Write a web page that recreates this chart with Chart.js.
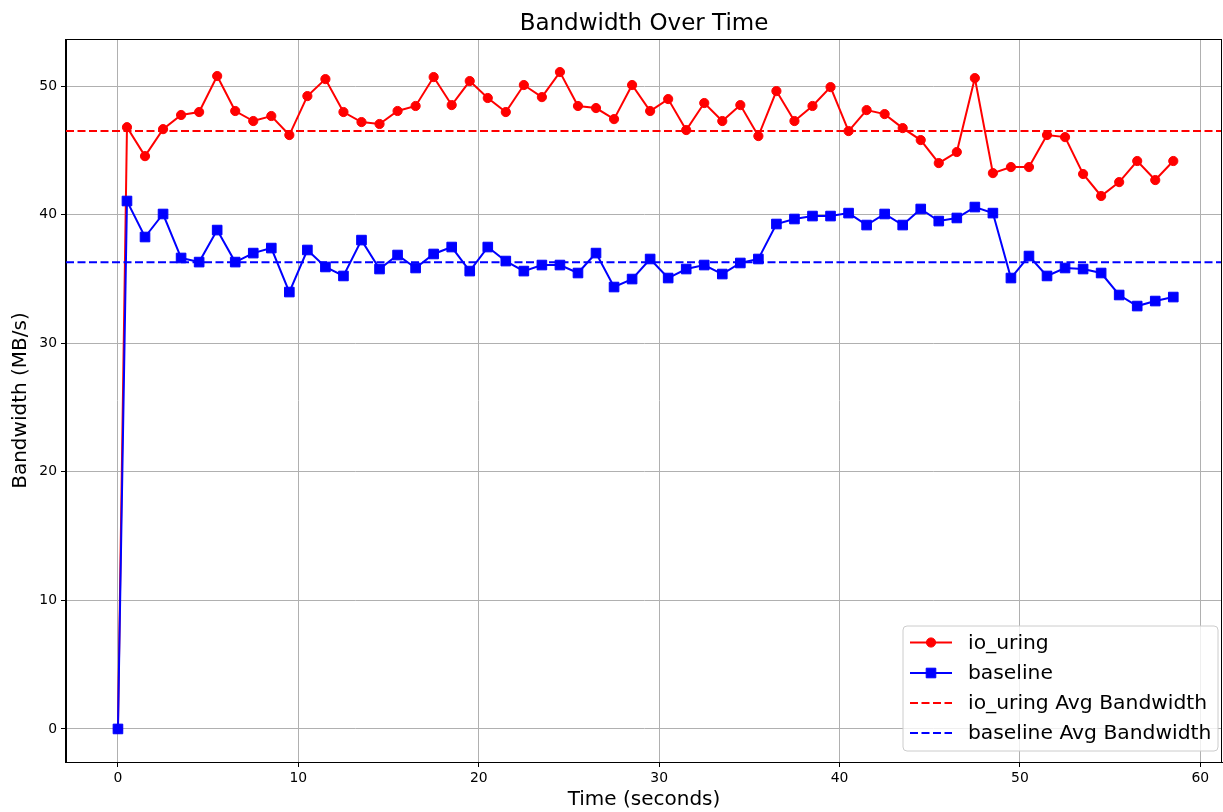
<!DOCTYPE html>
<html>
<head>
<meta charset="utf-8">
<script src="https://cdn.jsdelivr.net/npm/chart.js@4/dist/chart.umd.min.js"></script>
<style>
  html, body { margin: 0; padding: 0; background: #ffffff; }
  #wrap { width: 1223px; height: 812px; position: relative; }
</style>
</head>
<body>
<div id="wrap"><canvas id="c" width="1223" height="812"></canvas></div>
<script>
// ---- data ----
const timeSec = [0, 0.5, 1.5, 2.5, 3.5, 4.5, 5.5, 6.5, 7.5, 8.5, 9.5, 10.5, 11.5, 12.5, 13.5, 14.5,
  15.5, 16.5, 17.5, 18.5, 19.5, 20.5, 21.5, 22.5, 23.5, 24.5, 25.5, 26.5, 27.5, 28.5, 29.5,
  30.5, 31.5, 32.5, 33.5, 34.5, 35.5, 36.5, 37.5, 38.5, 39.5, 40.5, 41.5, 42.5, 43.5, 44.5,
  45.5, 46.5, 47.5, 48.5, 49.5, 50.5, 51.5, 52.5, 53.5, 54.5, 55.5, 56.5, 57.5, 58.5];
const ioUring = [0, 46.8, 44.55, 46.65, 47.75, 47.98, 50.78, 48.06, 47.28, 47.67, 46.19, 49.22, 50.54,
  47.98, 47.2, 47.05, 48.06, 48.45, 50.7, 48.52, 50.39, 49.07, 47.98, 50.08, 49.14, 51.09, 48.45,
  48.29, 47.43, 50.08, 48.06, 48.99, 46.58, 48.68, 47.28, 48.52, 46.11, 49.61, 47.28, 48.45, 49.92,
  46.5, 48.13, 47.82, 46.73, 45.8, 44.01, 44.87, 50.62, 43.23, 43.7, 43.7, 46.19, 46.03, 43.16,
  41.45, 42.53, 44.17, 42.69, 44.17];
const baseline = [0, 41.06, 38.26, 40.05, 36.63, 36.31, 38.8, 36.31, 37.01, 37.4, 33.98, 37.25, 35.93,
  35.23, 38.02, 35.77, 36.86, 35.85, 36.94, 37.48, 35.61, 37.48, 36.39, 35.61, 36.08, 36.08, 35.46,
  37.01, 34.37, 34.99, 36.55, 35.07, 35.77, 36.08, 35.38, 36.24, 36.55, 39.27, 39.66, 39.89, 39.89,
  40.12, 39.19, 40.05, 39.19, 40.44, 39.5, 39.74, 40.59, 40.12, 35.07, 36.78, 35.23, 35.85, 35.77,
  35.46, 33.75, 32.89, 33.28, 33.59];
const ioUringAvg = 46.5;
const baselineAvg = 36.3;
const xTicks = [0, 10, 20, 30, 40, 50, 60];
const yTicks = [0, 10, 20, 30, 40, 50];
const X_MIN = -2.88, X_MAX = 61.2;
const Y_MIN = -2.57, Y_MAX = 53.66;
const seriesLabels = ['io_uring', 'baseline', 'io_uring Avg Bandwidth', 'baseline Avg Bandwidth'];

const FONT = "'DejaVu Sans', sans-serif";

const toPts = (xs, ys) => xs.map((x, i) => ({ x: x, y: ys[i] }));

const zeroPad = (s) => {
  s.paddingLeft = 0; s.paddingRight = 0; s.paddingTop = 0; s.paddingBottom = 0;
};

// frame (top/right spines)
const framePlugin = {
  id: 'frame',
  afterDatasetsDraw(chart) {
    const { ctx, chartArea: a } = chart;
    ctx.save();
    ctx.strokeStyle = '#000';
    ctx.lineWidth = 1;
    ctx.strokeRect(Math.round(a.left) - 0.5, Math.round(a.top) + 0.5, Math.round(a.right - a.left), Math.round(a.bottom - a.top));
    ctx.restore();
  }
};

// matplotlib-style legend, lower right inside axes
const legendPlugin = {
  id: 'mplLegend',
  afterDraw(chart) {
    const { ctx, chartArea: a } = chart;
    const w = 315, h = 125;
    const x0 = a.right - 4 - w, y0 = a.bottom - 11 - h;
    ctx.save();
    ctx.beginPath();
    const r = 4;
    ctx.moveTo(x0 + r, y0);
    ctx.arcTo(x0 + w, y0, x0 + w, y0 + h, r);
    ctx.arcTo(x0 + w, y0 + h, x0, y0 + h, r);
    ctx.arcTo(x0, y0 + h, x0, y0, r);
    ctx.arcTo(x0, y0, x0 + w, y0, r);
    ctx.closePath();
    ctx.fillStyle = 'rgba(255,255,255,0.8)';
    ctx.fill();
    ctx.strokeStyle = '#cccccc';
    ctx.lineWidth = 1;
    ctx.stroke();
    const rowsY = [16.5, 47, 77, 107];
    chart.data.datasets.forEach((ds, i) => {
      const yy = y0 + rowsY[i];
      const hx0 = x0 + 7, hx1 = x0 + 49;
      ctx.beginPath();
      ctx.strokeStyle = ds.borderColor;
      ctx.lineWidth = 2;
      ctx.setLineDash(ds.borderDash || []);
      ctx.moveTo(hx0, yy);
      ctx.lineTo(hx1, yy);
      ctx.stroke();
      ctx.setLineDash([]);
      if (ds.pointRadius > 0) {
        ctx.fillStyle = ds.backgroundColor;
        ctx.strokeStyle = ds.borderColor;
        ctx.lineWidth = 1;
        ctx.beginPath();
        const cx = (hx0 + hx1) / 2;
        if (ds.pointStyle === 'rect') {
          const s = Math.SQRT1_2 * ds.pointRadius;
          ctx.rect(cx - s, yy - s, 2 * s, 2 * s);
        } else {
          ctx.arc(cx, yy, ds.pointRadius, 0, Math.PI * 2);
        }
        ctx.fill();
        ctx.stroke();
      }
      ctx.fillStyle = '#000';
      ctx.font = "20.3px " + FONT;
      ctx.textBaseline = 'middle';
      ctx.textAlign = 'left';
      ctx.fillText(ds.label, x0 + 65, yy + 1);
    });
    ctx.restore();
  }
};

new Chart(document.getElementById('c'), {
  type: 'line',
  data: {
    datasets: [
      {
        label: seriesLabels[0], data: toPts(timeSec, ioUring),
        borderColor: '#ff0000', backgroundColor: '#ff0000', borderWidth: 2,
        pointStyle: 'circle', pointRadius: 4.6, pointBorderWidth: 1, tension: 0, order: 4
      },
      {
        label: seriesLabels[1], data: toPts(timeSec, baseline),
        borderColor: '#0000ff', backgroundColor: '#0000ff', borderWidth: 2,
        pointStyle: 'rect', pointRadius: 6.8, pointBorderWidth: 1, tension: 0, order: 3
      },
      {
        label: seriesLabels[2], data: [{ x: X_MIN, y: ioUringAvg }, { x: X_MAX, y: ioUringAvg }],
        borderColor: '#ff0000', backgroundColor: '#ff0000', borderWidth: 2, borderDash: [8, 3.5],
        pointRadius: 0, order: 2
      },
      {
        label: seriesLabels[3], data: [{ x: X_MIN, y: baselineAvg }, { x: X_MAX, y: baselineAvg }],
        borderColor: '#0000ff', backgroundColor: '#0000ff', borderWidth: 2, borderDash: [8, 3.5],
        pointRadius: 0, order: 1
      }
    ]
  },
  options: {
    responsive: false,
    animation: false,
    devicePixelRatio: 1,
    layout: { autoPadding: false, padding: { left: 0, right: 1, top: 0, bottom: 0 } },
    plugins: {
      legend: { display: false },
      tooltip: { enabled: false },
      title: {
        display: true, fullSize: false, text: 'Bandwidth Over Time', color: '#000',
        font: { family: FONT, size: 23, weight: 'normal', lineHeight: 1.2 },
        padding: { top: 10, bottom: 1.4 }
      }
    },
    scales: {
      x: {
        type: 'linear', min: X_MIN, max: X_MAX,
        afterBuildTicks: (s) => { s.ticks = xTicks.map(v => ({ value: v })); },
        afterFit: (s) => { s.height = 50; zeroPad(s); },
        grid: { color: '#b0b0b0', lineWidth: 1, drawTicks: true, tickLength: 5, tickColor: '#000' },
        border: { display: true, color: '#000', width: 1 },
        ticks: { color: '#000', font: { family: FONT, size: 13.9 }, padding: 3, maxRotation: 0 },
        title: {
          display: true, text: 'Time (seconds)', color: '#000',
          font: { family: FONT, size: 20, lineHeight: 1.2 }, padding: { top: 0, bottom: 0 }
        }
      },
      y: {
        type: 'linear', min: Y_MIN, max: Y_MAX,
        afterBuildTicks: (s) => { s.ticks = yTicks.map(v => ({ value: v })); },
        afterFit: (s) => { s.width = 66; zeroPad(s); },
        grid: { color: '#b0b0b0', lineWidth: 1, drawTicks: true, tickLength: 5, tickColor: '#000' },
        border: { display: true, color: '#000', width: 1 },
        ticks: { color: '#000', font: { family: FONT, size: 13.9 }, padding: 4 },
        title: {
          display: true, text: 'Bandwidth (MB/s)', color: '#000',
          font: { family: FONT, size: 20, lineHeight: 1.2 }, padding: { top: 9, bottom: 0 }
        }
      }
    }
  },
  plugins: [framePlugin, legendPlugin]
});
</script>
</body>
</html>
